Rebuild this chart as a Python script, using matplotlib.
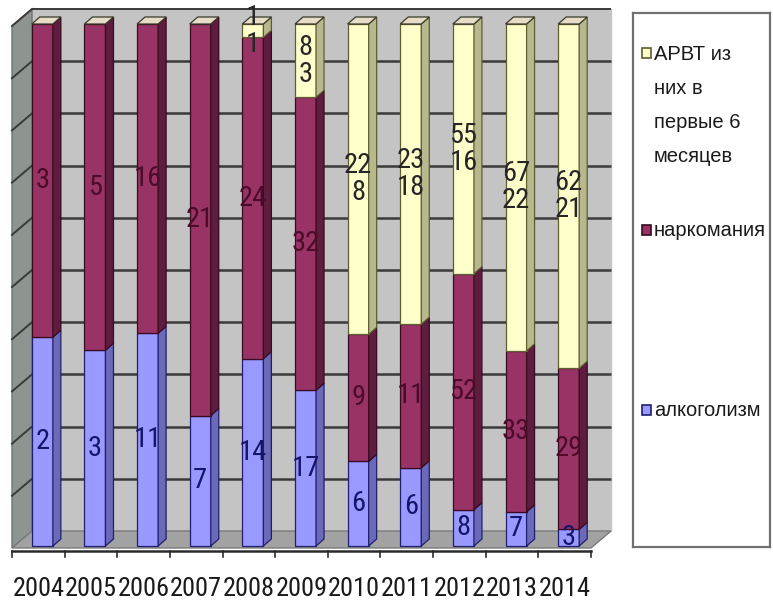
import matplotlib
matplotlib.use("Agg")
import matplotlib.pyplot as plt
from matplotlib.patches import Polygon
from matplotlib import font_manager

# ---- data -------------------------------------------------------------
years = ['2004', '2005', '2006', '2007', '2008', '2009',
         '2010', '2011', '2012', '2013', '2014']
alcohol = [2, 3, 11, 7, 14, 17, 6, 6, 8, 7, 3]
drugs = [3, 5, 16, 21, 24, 32, 9, 11, 52, 33, 29]
art = [0, 0, 0, 0, 1, 8, 22, 23, 55, 67, 62]
art_first6 = [0, 0, 0, 0, 1, 3, 8, 18, 16, 22, 21]

series_names = ['АРВТ из\nних в\nпервые 6\nмесяцев', 'наркомания', 'алкоголизм']

# ---- fonts --------------------------------------------------------------
available = {f.name for f in font_manager.fontManager.ttflist}
narrow = next((n for n in ['Liberation Sans Narrow', 'DejaVu Sans Condensed',
                           'Roboto Condensed', 'Open Sans Condensed']
               if n in available), 'Liberation Sans')
plain = 'Liberation Sans' if 'Liberation Sans' in available else 'DejaVu Sans'

# ---- figure / front plane of the 3-D box ---------------------------------
W, H = 773, 603
fig = plt.figure(figsize=(W / 100, H / 100), dpi=100)
fig.patch.set_facecolor('white')

x_left, x_right = 12, 591     # front plane, pixels
y_floor, y_top = 548, 26
ax = fig.add_axes([x_left / W, (H - y_floor) / H,
                   (x_right - x_left) / W, (y_floor - y_top) / H])
n = len(years)
ax.set_xlim(-0.5, n - 0.5)
ax.set_ylim(0, 100)
ax.axis('off')

kx = (x_right - x_left) / n       # pixels per category
ky = (y_floor - y_top) / 100.0    # pixels per percent


def px(dx, dy):
    """pixel offset -> data offset"""
    return dx / kx, dy / ky


# wall depth
wdx, wdy = px(20, 17)
xa, xb = -0.5, n - 0.5

wall_kw = dict(clip_on=False, linewidth=1.0)
# back wall
ax.add_patch(Polygon([(xa + wdx, wdy), (xb + wdx, wdy), (xb + wdx, 100 + wdy),
                      (xa + wdx, 100 + wdy)], closed=True,
                     facecolor='#C4C4C4', edgecolor='#C4C4C4', zorder=0, **wall_kw))
# side wall
ax.add_patch(Polygon([(xa, 0), (xa + wdx, wdy), (xa + wdx, 100 + wdy), (xa, 100)],
                     closed=True, facecolor='#8E9590', edgecolor='#6E756F',
                     zorder=0.5, **wall_kw))
# floor
ax.add_patch(Polygon([(xa, 0), (xb, 0), (xb + wdx, wdy), (xa + wdx, wdy)],
                     closed=True, facecolor='#A2A2A2', edgecolor='#7A7A7A',
                     zorder=0.6, **wall_kw))

# gridlines on back wall and side wall
for v in range(10, 101, 10):
    ax.plot([xa + wdx, xb + wdx], [v + wdy, v + wdy], color='#3A3A3A',
            lw=1.8 if v < 100 else 1.4, zorder=0.7, clip_on=False,
            solid_capstyle='butt')
    ax.plot([xa, xa + wdx], [v, v + wdy], color='#3A3A3A', lw=1.4,
            zorder=0.7, clip_on=False)

# category axis line with tick marks
_, ax_drop = px(0, -3)
_, tick_len = px(0, -9)
ax.plot([xa, xb], [ax_drop, ax_drop], color='#2A2A2A', lw=1.8,
        clip_on=False, zorder=5)
for k in range(n + 1):
    xt = xa + k
    ax.plot([xt, xt], [ax_drop, tick_len], color='#2A2A2A', lw=1.2,
            clip_on=False, zorder=5)
_, ylab = px(0, -41)
for i, yr in enumerate(years):
    ax.text(i, ylab, yr, ha='center', va='center', fontsize=19,
            family=narrow, color='#1A1A1A', clip_on=False)

# ---- bars --------------------------------------------------------------
bar_w = 0.40
bdx, bdy = px(4, 2)          # bar placement inside the box
sdx, sdy = px(8, 7)          # bar depth

styles = [  # front, side, edge, label colour
    ('#9999FF', '#6A6AB8', '#1F1F70', '#15156A'),   # alcohol
    ('#993366', '#5E1D3E', '#3A0A20', '#4A0C28'),   # drugs
    ('#FFFFCC', '#B8B88E', '#5E5E30', '#262626'),   # ART
]

for i in range(n):
    total = alcohol[i] + drugs[i] + art[i]
    vals = [alcohol[i], drugs[i], art[i]]
    pct = [v / total * 100 for v in vals]
    labels = [str(alcohol[i]), str(drugs[i]), f'{art[i]}\n{art_first6[i]}']
    xl = i - bar_w / 2 + bdx
    xr = i + bar_w / 2 + bdx
    base = bdy
    for (front, side, edge, tcol), p, v, lab in zip(styles, pct, vals, labels):
        top = base + p
        if p > 0:
            ax.add_patch(Polygon([(xl, base), (xr, base), (xr, top), (xl, top)],
                                 closed=True, facecolor=front, edgecolor=edge,
                                 lw=0.9, zorder=2, clip_on=False))
            ax.add_patch(Polygon([(xr, base), (xr + sdx, base + sdy),
                                  (xr + sdx, top + sdy), (xr, top)],
                                 closed=True, facecolor=side, edgecolor=edge,
                                 lw=0.9, zorder=2, clip_on=False))
        if v > 0:
            ax.text(i + bdx, (base + top) / 2, lab, ha='center', va='center',
                    fontsize=20.5, family=narrow, color=tcol, linespacing=1.0,
                    zorder=4, clip_on=False)
        base = top
    # top cap
    ax.add_patch(Polygon([(xl, base), (xr, base), (xr + sdx, base + sdy),
                          (xl + sdx, base + sdy)], closed=True,
                         facecolor='#E6DCC8', edgecolor='#3A3A2A', lw=0.9,
                         zorder=3, clip_on=False))

# ---- legend box ----------------------------------------------------------
lx0, lx1, ly0, ly1 = 633, 770, 13, 547
lg = fig.add_axes([lx0 / W, (H - ly1) / H, (lx1 - lx0) / W, (ly1 - ly0) / H])
lg.set_xlim(lx0, lx1)
lg.set_ylim(ly1, ly0)
lg.set_xticks([])
lg.set_yticks([])
for s in lg.spines.values():
    s.set_color('#707070')
    s.set_linewidth(1.6)

entry_rows = [106, 230, 410]          # vertical centre of each entry
marker_rows = [53, 230, 410]
legend_colors = [('#FFFFCC', '#5E5E30'), ('#993366', '#3A0A20'),
                 ('#9999FF', '#1F1F70')]
for name, yc, ym, (fc, ec) in zip(series_names, entry_rows, marker_rows,
                                   legend_colors):
    lg.add_patch(Polygon([(642, ym - 5), (651, ym - 5), (651, ym + 5),
                          (642, ym + 5)], closed=True, facecolor=fc,
                         edgecolor=ec, lw=1.2))
    lg.text(654, yc, name, ha='left', va='center', fontsize=14.5, family=plain,
            color='#1A1A1A', linespacing=2.0, clip_on=False)

fig.savefig('out.png', dpi=100)
